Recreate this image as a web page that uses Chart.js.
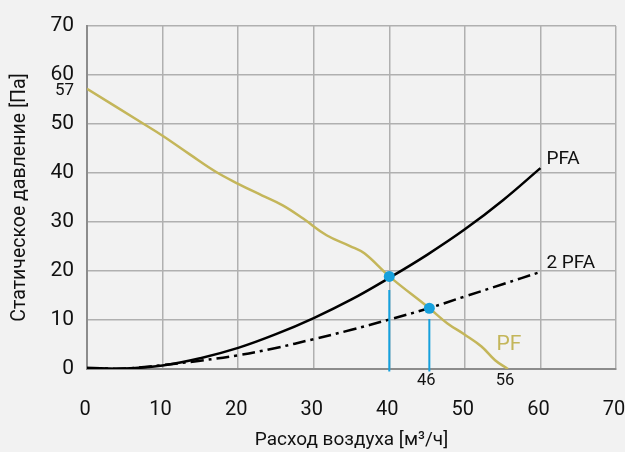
<!DOCTYPE html>
<html>
<head>
<meta charset="utf-8">
<script src="https://cdn.jsdelivr.net/npm/chart.js@4/dist/chart.umd.min.js"></script>
<style>
  html, body { margin: 0; padding: 0; background: #f2f2f2; }
  #wrap { width: 625px; height: 452px; }
</style>
</head>
<body>
<div id="wrap"><canvas id="myChart" width="625" height="452"></canvas></div>
<script>
const FONT = "'Roboto', 'Liberation Sans', sans-serif";

// x values (m3/h) and static pressure (Pa)
const pfX = [0, 7.2, 10, 13.6, 17.1, 20, 23.2, 25.9, 28.6, 31.7, 34.8, 36.7, 40, 45.3, 47.7, 50, 52.2, 54, 55.7];
const pfY = [57.2, 50.3, 47.6, 43.8, 40.2, 37.8, 35.4, 33.4, 30.7, 27.3, 25.1, 23.6, 18.9, 12.4, 9.3, 7.0, 4.6, 1.8, 0];

const fanX = [0, 5, 10, 15, 20, 25, 30, 35, 40, 45, 50, 55, 60];
const pfaY = [0.2, 0.1, 0.7, 2.2, 4.3, 7.1, 10.4, 14.2, 18.6, 23.3, 28.5, 34.4, 41];
const pfa2Y = [0.2, 0.1, 0.8, 1.7, 2.8, 4.3, 6.1, 8.0, 10.1, 12.3, 14.8, 17.3, 19.8];

// working points and their drop lines
const opX = [40, 45.3];
const opY = [18.9, 12.4];
const dropTop = [16.1, 10.2];
const dropBottom = -0.5;
const opLabels = ["", "46"];
const endLabel = "56";
const extraTick = 57;
const pfLabelAt = { x: 54.2, y: 4.9 };

const xTicks = [0, 10, 20, 30, 40, 50, 60, 70];
const yTicks = [0, 10, 20, 30, 40, 50, 60, 70];

const OLIVE = "#c4b65a";
const BLUE = "#16a0dc";

const pts = (xs, ys) => xs.map((x, i) => ({ x: x, y: ys[i] }));

// lower order = drawn on top
const datasets = [
  { label: "PF", order: 3, data: pts(pfX, pfY), borderColor: OLIVE, borderWidth: 2.5, pointRadius: 0, tension: 0.4 },
  { label: "PFA", order: 2, data: pts(fanX, pfaY), borderColor: "#000", borderWidth: 2.5, pointRadius: 0, tension: 0.4 },
  { label: "2 PFA", order: 2, data: pts(fanX, pfa2Y), borderColor: "#000", borderWidth: 2.5, borderDash: [13, 5, 3, 5], pointRadius: 0, tension: 0.4 }
];
opX.forEach((x, i) => {
  datasets.push({ order: 1, data: [{ x: x, y: dropTop[i] }, { x: x, y: dropBottom }], borderColor: BLUE, borderWidth: 2, pointRadius: 0, clip: 6 });
});
datasets.push({ order: 0, data: pts(opX, opY), showLine: false, pointRadius: 5.5, backgroundColor: BLUE, borderColor: BLUE, pointBackgroundColor: BLUE, pointBorderColor: BLUE, pointBorderWidth: 0 });

const labelsPlugin = {
  id: "curveLabels",
  afterDatasetsDraw(chart) {
    const ctx = chart.ctx, x = chart.scales.x, y = chart.scales.y;
    ctx.save();
    ctx.textBaseline = "middle";
    ctx.textAlign = "left";
    ctx.font = "19px " + FONT;
    ctx.fillStyle = "#111";
    const last = fanX.length - 1;
    ctx.fillText("PFA", x.getPixelForValue(fanX[last]) + 6, y.getPixelForValue(pfaY[last]) - 9);
    ctx.fillText("2 PFA", x.getPixelForValue(fanX[last]) + 6, y.getPixelForValue(pfa2Y[last]) - 9);
    ctx.fillStyle = OLIVE;
    ctx.font = "21px " + FONT;
    ctx.fillText("PF", x.getPixelForValue(pfLabelAt.x), y.getPixelForValue(pfLabelAt.y));
    ctx.fillStyle = "#111";
    ctx.font = "16.5px " + FONT;
    ctx.textAlign = "center";
    opX.forEach((v, i) => {
      if (opLabels[i]) ctx.fillText(opLabels[i], x.getPixelForValue(v) - 3, y.getPixelForValue(0) + 12);
    });
    ctx.fillText(endLabel, x.getPixelForValue(pfX[pfX.length - 1]) - 3, y.getPixelForValue(0) + 12);
    ctx.textAlign = "right";
    ctx.font = "17px " + FONT;
    ctx.fillText(String(extraTick), x.left - 13, y.getPixelForValue(extraTick) + 1);
    ctx.restore();
  }
};

new Chart(document.getElementById("myChart"), {
  type: "line",
  data: { datasets: datasets },
  options: {
    responsive: false,
    animation: false,
    events: [],
    layout: { padding: { top: 26, right: 9, left: 0, bottom: 0 } },
    plugins: { legend: { display: false }, tooltip: { enabled: false } },
    scales: {
      x: {
        type: "linear", min: 0, max: 70,
        afterBuildTicks: (s) => { s.ticks = xTicks.map(v => ({ value: v })); },
        afterFit: (s) => { s.height = 83; s.paddingLeft = 0; s.paddingRight = 0; },
        ticks: { font: { size: 20, family: FONT }, color: "#111", padding: 29, maxRotation: 0, labelOffset: -2 },
        grid: { color: "#b0b0b0", lineWidth: 1.5, drawTicks: false },
        border: { color: "#8c8c8c", width: 2 },
        title: { display: true, text: "Расход воздуха [м³/ч]", font: { size: 19, family: FONT }, color: "#111", padding: { top: 0, bottom: 0 } }
      },
      y: {
        min: 0, max: 70,
        afterBuildTicks: (s) => { s.ticks = yTicks.map(v => ({ value: v })); },
        afterFit: (s) => { s.width = 87; s.paddingTop = 0; s.paddingBottom = 0; },
        ticks: { font: { size: 21, family: FONT }, color: "#111", padding: 13 },
        grid: { color: "#b0b0b0", lineWidth: 1.5, drawTicks: false },
        border: { color: "#8c8c8c", width: 2 },
        title: { display: true, text: "Статическое давление [Па]", font: { size: 19.5, family: FONT }, color: "#111", padding: { top: 8, bottom: 0 } }
      }
    }
  },
  plugins: [labelsPlugin]
});
</script>
</body>
</html>
